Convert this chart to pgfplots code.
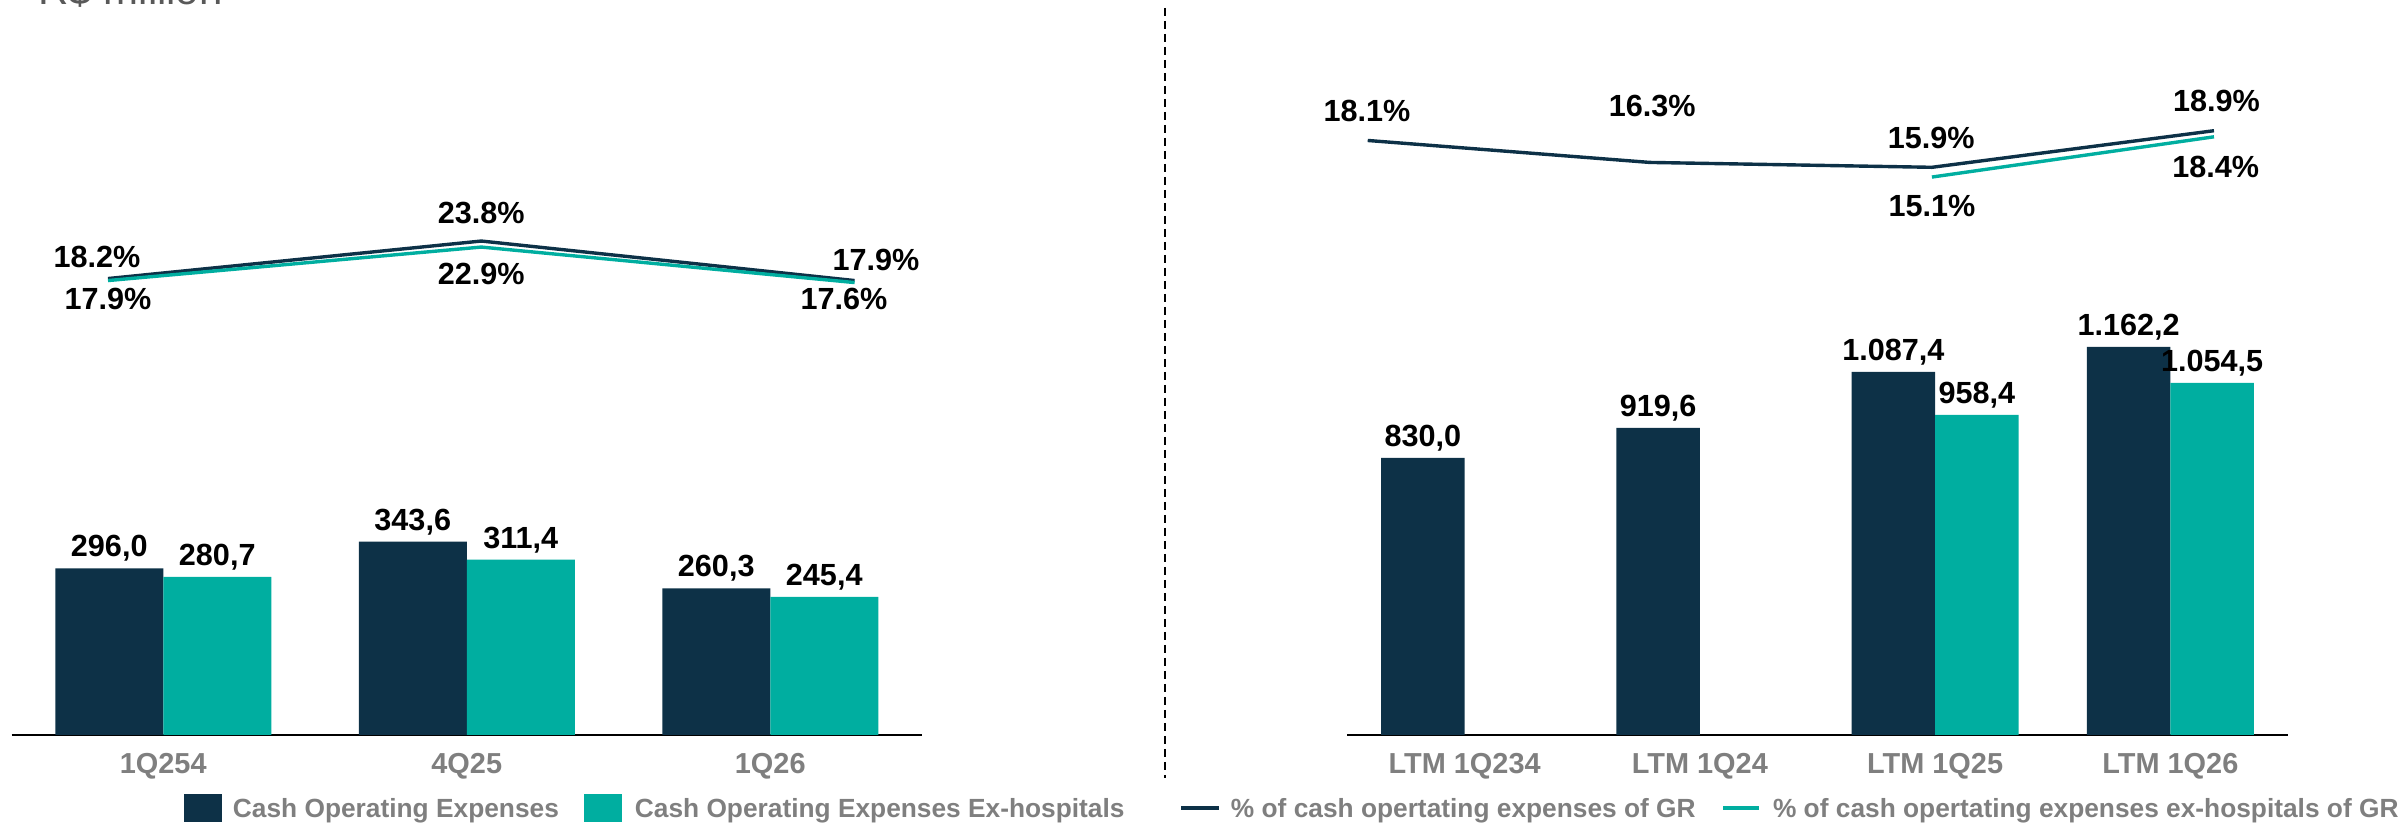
\documentclass[border=0pt]{standalone}
\usepackage{fontspec}
\setmainfont{Liberation Sans}
\usepackage{pgfplots}
\pgfplotsset{compat=1.18}
\definecolor{navy}{RGB}{13,49,71}
\definecolor{tealc}{RGB}{0,174,160}
\definecolor{tickgray}{RGB}{127,127,127}
\definecolor{titlegray}{RGB}{89,89,89}
\newcommand{\lblfont}{\bfseries\fontsize{15.3}{17}\selectfont}
\newcommand{\tickfont}{\bfseries\fontsize{14.45}{16}\selectfont}
\newcommand{\legfont}{\bfseries\fontsize{13.15}{15}\selectfont}
\pgfplotsset{
  barbase/.style={
    scale only axis, anchor=south west, clip=false,
    axis x line=bottom, axis y line=none,
    x axis line style={-, black, line width=1.1pt},
    ymin=0, enlargelimits=false,
    major tick length=0pt, xtick style={draw=none},
    xticklabel style={font=\tickfont, text=tickgray, inner sep=0pt, anchor=north, yshift=-9pt},
    ybar=0pt,
    nodes near coords,
    every node near coord/.append style={font=\lblfont, text=black, inner sep=0pt, anchor=south, yshift=3.2pt},
    /pgf/number format/fixed, /pgf/number format/precision=1, /pgf/number format/zerofill,
    /pgf/number format/use comma, /pgf/number format/1000 sep={.},
    /pgf/number format/assume math mode=true,
  },
  linebase/.style={
    scale only axis, anchor=south west, clip=false, hide axis,
    enlargelimits=false,
    point meta=y,
    nodes near coords={\pgfmathprintnumber{\pgfplotspointmeta}\%},
    visualization depends on=value \thisrow{dx}\as\mydx,
    visualization depends on=value \thisrow{dy}\as\mydy,
    every node near coord/.append style={font=\lblfont, text=black, inner sep=0pt, anchor=center, xshift=\mydx pt, yshift=\mydy pt},
    /pgf/number format/fixed, /pgf/number format/precision=1, /pgf/number format/zerofill,
    /pgf/number format/assume math mode=true,
  },
}
\begin{document}
\begin{tikzpicture}
\useasboundingbox (0,0) rectangle (1202pt,412pt);
% title (mostly cut off at the top, as in the reference)
\node[anchor=base west, inner sep=0pt, font=\fontsize{21}{24}\selectfont, text=titlegray] at (19pt,409.5pt) {R\$ million};
% separator
\draw[dash pattern=on 4pt off 2.5pt, line width=1pt] (582.25pt,408pt) -- (582.25pt,23pt);

% ---------- left bars ----------
\begin{axis}[barbase, at={(5.75pt,44.5pt)}, width=455.25pt, height=281.5pt,
  xmin=-0.5, xmax=2.5, ymax=1000, bar width=54pt,
  xtick={0,1,2}, xticklabels={1Q254,4Q25,1Q26},
  legend columns=4,
  legend style={at={(0.18946,-0.12966)}, anchor=west, draw=none, fill=none,
    inner sep=0pt, outer sep=0pt, font=\legfont, text=tickgray,
    nodes={inner sep=0pt, text depth=0pt},
    /tikz/column 1/.style={column sep=5.5pt},
    /tikz/column 2/.style={column sep=12.5pt},
    /tikz/column 3/.style={column sep=6.5pt},
    /tikz/column 4/.style={column sep=27.5pt},
    /tikz/column 5/.style={column sep=5pt},
    /tikz/column 6/.style={column sep=13pt},
    /tikz/column 7/.style={column sep=6pt}},
]
\addplot[fill=navy, draw=none,
  legend image code/.code={\fill[navy] (0pt,-7pt) rectangle (19pt,7pt);}]
  coordinates {(0,296.0) (1,343.6) (2,260.3)};
\addlegendentry{Cash Operating Expenses}
\addplot[fill=tealc, draw=none,
  legend image code/.code={\fill[tealc] (0pt,-7pt) rectangle (19pt,7pt);}]
  coordinates {(0,280.7) (1,311.4) (2,245.4)};
\addlegendentry{Cash Operating Expenses Ex-hospitals}
\addlegendimage{legend image code/.code={\draw[navy, line width=1.7pt] (0pt,0pt) -- (19pt,0pt);}}
\addlegendentry{\% of cash opertating expenses of GR}
\addlegendimage{legend image code/.code={\draw[tealc, line width=1.7pt] (0pt,0pt) -- (18pt,0pt);}}
\addlegendentry{\% of cash opertating expenses ex-hospitals of GR}
\end{axis}

% ---------- left lines ----------
\begin{axis}[linebase, at={(54pt,262pt)}, width=373.3pt, height=33.5pt,
  xmin=0, xmax=2, ymin=15, ymax=25]
\addplot[navy, line width=1.7pt] table[x=x, y=y, row sep=\\] {
x y dx dy\\
0 18.2 -5.5 10.75\\
1 23.8 0 14\\
2 17.9 10.7 10.25\\
};
\addplot[tealc, line width=1.7pt] table[x=x, y=y, row sep=\\] {
x y dx dy\\
0 17.9 0 -9.1\\
1 22.9 0 -13.35\\
2 17.6 -5.3 -8.25\\
};
\end{axis}

% ---------- right bars ----------
\begin{axis}[barbase, at={(673.5pt,44.5pt)}, width=470.5pt, height=334pt,
  xmin=-0.5, xmax=3.5, ymax=2000, bar width=41.8pt,
  xtick={0,1,2,3}, xticklabels={LTM 1Q234,LTM 1Q24,LTM 1Q25,LTM 1Q26}]
\addplot[fill=navy, draw=none]
  coordinates {(0,830.0) (1,919.6) (2,1087.4) (3,1162.2)};
\addplot[fill=tealc, draw=none]
  coordinates {(2,958.4) (3,1054.5)};
\end{axis}

% ---------- right lines ----------
\begin{axis}[linebase, at={(683.85pt,316.75pt)}, width=423.15pt, height=36.6pt,
  xmin=0, xmax=3, ymin=14, ymax=20]
\addplot[navy, line width=1.7pt] table[x=x, y=y, row sep=\\] {
x y dx dy\\
0 18.1 -0.35 14.6\\
1 16.3 1.2 28.2\\
2 15.9 -0.35 14.65\\
3 18.9 1.25 14.85\\
};
\addplot[tealc, line width=1.7pt] table[x=x, y=y, row sep=\\] {
x y dx dy\\
2 15.1 0 -14.25\\
3 18.4 0.9 -15.15\\
};
\end{axis}
\end{tikzpicture}
\end{document}
